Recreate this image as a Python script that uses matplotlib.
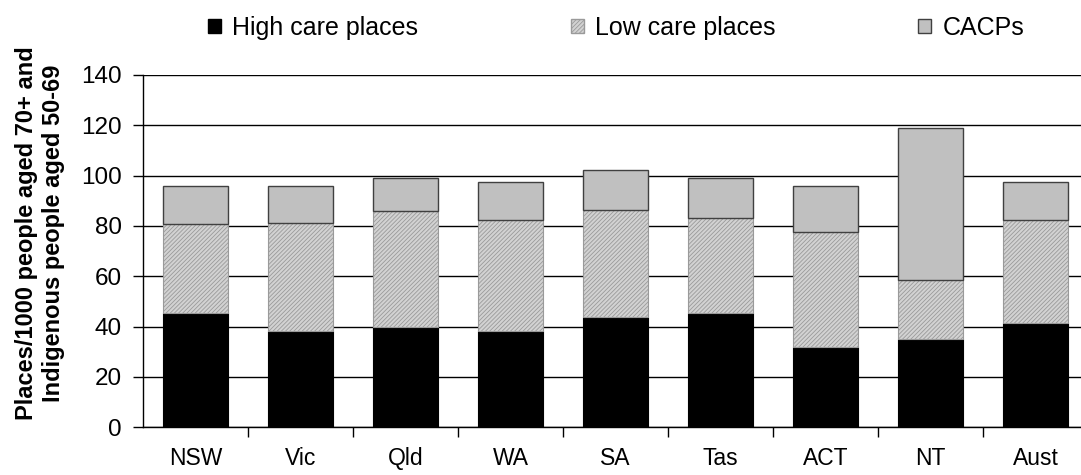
import matplotlib
matplotlib.use("Agg")
import matplotlib.pyplot as plt
import numpy as np
from matplotlib.patches import Patch

plt.rcParams['font.family'] = ['Liberation Sans', 'DejaVu Sans']
plt.rcParams['hatch.linewidth'] = 0.6

categories = ["NSW", "Vic", "Qld", "WA", "SA", "Tas", "ACT", "NT", "Aust"]
high_care = [45.5, 38.2, 39.7, 38.2, 43.8, 45.4, 32.0, 35.2, 41.5]
low_care_top = [80.8, 81.0, 85.8, 82.5, 86.5, 83.3, 77.8, 58.6, 82.5]
total_top = [96.0, 96.0, 99.2, 97.5, 102.2, 99.2, 96.0, 118.9, 97.6]
labels = ["High care places", "Low care places", "CACPs"]

high = np.array(high_care)
low = np.array(low_care_top) - high
cacp = np.array(total_top) - np.array(low_care_top)

fig = plt.figure(figsize=(10.81, 4.75), dpi=100)
ax = fig.add_axes([143/1081, 1-427.3/475, (1088-143)/1081, (427.3-75)/475])

x = np.arange(len(categories))
w = 0.61
ax.bar(x, high, w, color='black', edgecolor='black', linewidth=0.8, zorder=3)
ax.bar(x, low, w, bottom=high, color='#d2d2d2', edgecolor='#9a9a9a',
       hatch='////////', linewidth=0.8, zorder=3)
ax.bar(x, cacp, w, bottom=high + low, color='#c0c0c0', edgecolor='#404040',
       linewidth=1.0, zorder=3)

ax.set_xlim(-0.5, len(categories) - 0.5)
ax.set_ylim(0, 140)
ax.set_yticks(np.arange(0, 141, 20))
ax.yaxis.grid(True, color='black', linewidth=1.0, zorder=0)
ax.set_axisbelow(True)
for s in ['top', 'right']:
    ax.spines[s].set_visible(False)
ax.spines['left'].set_linewidth(1.0)
ax.spines['bottom'].set_linewidth(1.0)

ax.set_xticks(x)
ax.set_xticklabels(categories, fontsize=16.5)
ax.tick_params(axis='x', which='major', length=0, pad=14.5)
ax.set_xticks(np.arange(0.5, len(categories) - 0.5, 1.0), minor=True)
ax.tick_params(axis='x', which='minor', length=7, width=1, direction='out')
ax.tick_params(axis='y', length=7.2, width=1, direction='out', labelsize=17.5, pad=8)

fig.text(0.037, 1-233/475, "Places/1000 people aged 70+ and\nIndigenous people aged 50-69",
         rotation=90, ha='center', va='center', fontsize=17, fontweight='bold',
         linespacing=1.25)

handles = [Patch(facecolor='black', edgecolor='black'),
           Patch(facecolor='#d2d2d2', edgecolor='#9a9a9a', hatch='////////'),
           Patch(facecolor='#c0c0c0', edgecolor='#404040')]
xpos = [208/1081, 571/1081, 918/1081]
for h, l, xp in zip(handles, labels, xpos):
    fig.legend([h], [l], loc='center left', bbox_to_anchor=(xp, 1-28/475),
               frameon=False, fontsize=18, handlelength=0.52, handleheight=0.52,
               handletextpad=0.45, borderpad=0, borderaxespad=0)

fig.savefig("out.png", dpi=100)
